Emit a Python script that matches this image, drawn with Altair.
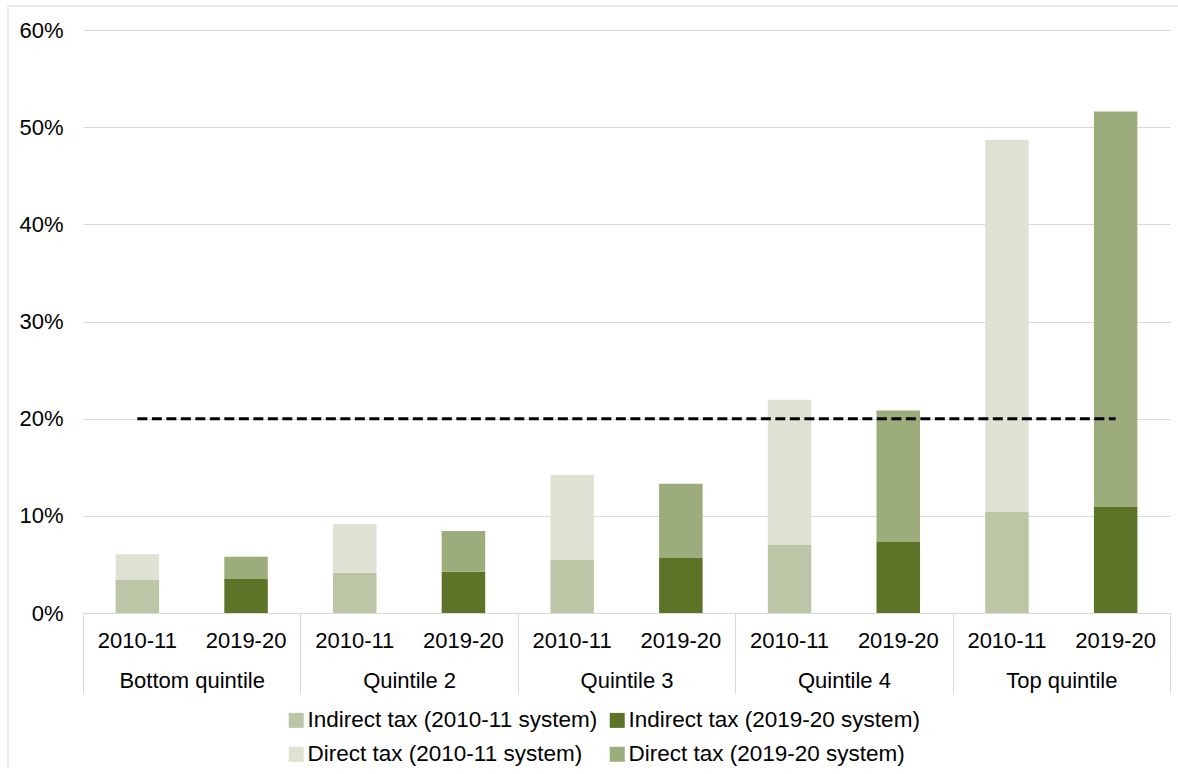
import altair as alt
import pandas as pd

# Income quintiles and the two tax systems compared
groups = ["Bottom quintile", "Quintile 2", "Quintile 3", "Quintile 4", "Top quintile"]
years = ["2010-11", "2019-20"]

# Tax as % of income, split into indirect (bottom) and direct (top)
indirect_2010 = [3.4, 4.15, 5.45, 7.05, 10.4]
direct_2010 = [2.65, 5.0, 8.75, 14.9, 38.3]
indirect_2019 = [3.5, 4.25, 5.65, 7.3, 10.9]
direct_2019 = [2.3, 4.2, 7.65, 13.55, 40.7]

series_names = [
    "Indirect tax (2010-11 system)",
    "Indirect tax (2019-20 system)",
    "Direct tax (2010-11 system)",
    "Direct tax (2019-20 system)",
]
series_colors = ["#BCC6A7", "#5D7328", "#DFE2D2", "#9CAC7B"]

reference_level = 20
y_ticks = [0, 10, 20, 30, 40, 50, 60]

FONT = "Liberation Sans"
GRID = "#D9D9D9"

slots = [f"{g}|{y}" for g in groups for y in years]

rows = []
for i, g in enumerate(groups):
    for y, ind, dr, ind_name, dr_name in [
        ("2010-11", indirect_2010[i], direct_2010[i], series_names[0], series_names[2]),
        ("2019-20", indirect_2019[i], direct_2019[i], series_names[1], series_names[3]),
    ]:
        rows.append({"slot": f"{g}|{y}", "series": ind_name, "value": ind, "layer": 0})
        rows.append({"slot": f"{g}|{y}", "series": dr_name, "value": dr, "layer": 1})
bars_df = pd.DataFrame(rows)

line_df = pd.DataFrame({"start": [slots[0]], "end": [slots[-1]], "level": [reference_level]})
groups_df = pd.DataFrame({"group": groups})
frame_df = pd.DataFrame({"k": [0]})

slot_scale = alt.Scale(domain=slots, paddingInner=0.6, paddingOuter=0.3)
year_axis = alt.Axis(
    title=None,
    labelExpr="split(datum.label, '|')[1]",
    labelAngle=0,
    ticks=False,
    tickSize=0,
    domain=True,
    domainColor=GRID,
    domainWidth=1,
    labelPadding=17,
    labelFontSize=22,
    grid=False,
)

bars = alt.Chart(bars_df).mark_bar().encode(
    x=alt.X("slot:N", sort=slots, scale=slot_scale, axis=year_axis),
    y=alt.Y(
        "value:Q",
        stack="zero",
        scale=alt.Scale(domain=[0, 60], nice=False),
        axis=alt.Axis(
            title=None,
            values=y_ticks,
            labelExpr="datum.value + '%'",
            grid=True,
            gridColor=GRID,
            gridWidth=1,
            domain=False,
            ticks=False,
            labelPadding=20,
            labelFontSize=22,
        ),
    ),
    color=alt.Color(
        "series:N",
        scale=alt.Scale(domain=series_names, range=series_colors),
        legend=alt.Legend(
            orient="none",
            direction="horizontal",
            legendX=202,
            legendY=679,
            columns=2,
            title=None,
            symbolType="square",
            symbolSize=225,
            symbolStrokeWidth=0,
            labelFontSize=22.5,
            labelLimit=0,
            rowPadding=11,
            columnPadding=8,
            labelOffset=0,
            padding=0,
        ),
    ),
    order=alt.Order("layer:Q"),
)

threshold = alt.Chart(line_df).mark_rule(
    color="black", strokeWidth=3, strokeDash=[10, 4.5]
).encode(
    x=alt.X("start:N", sort=slots, scale=slot_scale, axis=year_axis),
    x2="end:N",
    y=alt.Y("level:Q"),
)

group_axis = alt.Chart(groups_df).mark_point(opacity=0).encode(
    x=alt.X(
        "group:N",
        sort=groups,
        scale=alt.Scale(type="band", domain=groups, paddingInner=0, paddingOuter=0),
        axis=alt.Axis(
            orient="bottom",
            title=None,
            labelAngle=0,
            tickBand="extent",
            ticks=True,
            tickSize=80,
            tickColor=GRID,
            tickWidth=1,
            domain=False,
            labelPadding=-23,
            labelFontSize=22,
            grid=False,
        ),
    ),
)

# Light outline along the top and left of the figure
frame_top = alt.Chart(frame_df).mark_rule(color=GRID, strokeWidth=1).encode(
    x=alt.value(-75), x2=alt.value(1095), y=alt.value(-24)
)
frame_left = alt.Chart(frame_df).mark_rule(color=GRID, strokeWidth=1).encode(
    x=alt.value(-75), y=alt.value(-24), y2=alt.value(744)
)

chart = (
    alt.layer(frame_top, frame_left, alt.layer(bars, threshold), group_axis)
    .resolve_scale(x="independent")
    .properties(
        width=1087,
        height=583,
        autosize=alt.AutoSizeParams(type="none"),
        padding={"left": 83, "top": 30, "right": 8, "bottom": 155},
        background="white",
    )
    .configure(font=FONT)
    .configure_view(stroke=None)
    .configure_axis(labelColor="black", labelFont=FONT)
    .configure_legend(labelColor="black", labelFont=FONT)
)

chart.save("out.html", embed_options={"renderer": "svg", "actions": False})
